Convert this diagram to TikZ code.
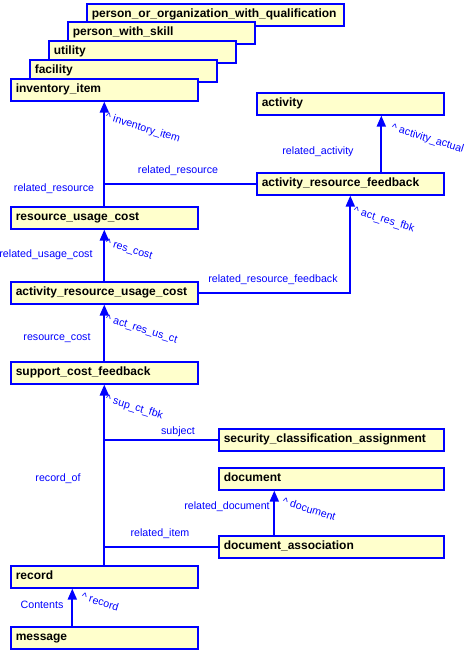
\documentclass[tikz,border=0pt]{standalone}
\usepackage{fontspec}
\setmainfont{Liberation Sans}
\usepackage{tikz}
\usetikzlibrary{arrows.meta}
\definecolor{entityfill}{RGB}{255,255,204}

\begin{document}
\begin{tikzpicture}[x=1pt, y=-1pt]
	\useasboundingbox (0,0) rectangle (468,650);
	\begin{scope}[every node/.style = {rectangle, draw=blue, fill=entityfill, line width=1.6pt,
			anchor=north west, minimum height=22pt, inner xsep=5pt, text width=177pt,
			text height=8.5pt, text depth=2.5pt, font=\fontsize{12}{14}\selectfont\bfseries}]
		\node[text width=247pt] (pooq) at (86,3) {person\_or\_organization\_with\_qualification};
		\node (pws) at (67,21) {person\_with\_skill};
		\node (util) at (48,40) {utility};
		\node (fac) at (29,59) {facility};
		\node (inv) at (10,78) {inventory\_item};
		\node (act) at (256,92) {activity};
		\node (arf) at (256,172) {activity\_resource\_feedback};
		\node (ruc) at (10,206) {resource\_usage\_cost};
		\node (aruc) at (10,281) {activity\_resource\_usage\_cost};
		\node (scf) at (10,361) {support\_cost\_feedback};
		\node[text width=215pt] (sca) at (218,428) {security\_classification\_assignment};
		\node[text width=215pt] (doc) at (218,467) {document};
		\node[text width=215pt] (da) at (218,535) {document\_association};
		\node (rec) at (10,565) {record};
		\node (msg) at (10,626) {message};
	\end{scope}
	\begin{scope}[>={Triangle[length=11pt, width=9pt]},
			every edge/.style={draw=blue, line width=1.8pt}]
		\path [->] (ruc.north) edge (inv.south);
		\path (arf.west) edge (arf.west -| inv.south);
		\path [->] ([xshift=31pt]arf.north) edge ([xshift=31pt]act.south);
		\path [->] (aruc.north) edge (ruc.south);
		\path [->] (aruc.east) edge [to path={-| (\tikztotarget)}] (arf.south);
		\path [->] (scf.north) edge (aruc.south);
		\path [->] (rec.north) edge (scf.south);
		\path (sca.west) edge (sca.west -| rec.north);
		\path (da.west) edge (da.west -| rec.north);
		\path [->] ([xshift=-57pt]da.north) edge ([xshift=-57pt]doc.south);
		\path [->] ([xshift=-32pt]msg.north) edge ([xshift=-32pt]rec.south);
	\end{scope}
	\begin{scope}[every node/.style = {text=blue, inner sep=0pt, font=\fontsize{10.67}{12}\selectfont},
			rolename/.style = {rotate=-17, anchor=north west}]
		\node (l_inv) at (178,171) {related\_resource};
		\node (l_ruc) at (54,189) {related\_resource};
		\node[rolename] (r_inv) at (107,112) {\textasciicircum\ inventory\_item};
		\node (l_act) at (318,152) {related\_activity};
		\node[rolename] (r_act) at (393,123) {\textasciicircum\ activity\_actual};
		\node[rolename] (r_arf) at (355,206) {\textasciicircum\ act\_res\_fbk};
		\node (l_aruc) at (46,255) {related\_usage\_cost};
		\node[rolename] (r_ruc) at (107,238) {\textasciicircum\ res\_cost};
		\node (l_arf) at (273,280) {related\_resource\_feedback};
		\node (l_scf) at (57,338) {resource\_cost};
		\node[rolename] (r_aruc) at (107,314) {\textasciicircum\ act\_res\_us\_ct};
		\node[rolename] (r_scf) at (107,394) {\textasciicircum\ sup\_ct\_fbk};
		\node (l_sca) at (178,432) {subject};
		\node (l_rec) at (58,479) {record\_of};
		\node (l_doc) at (227,507) {related\_document};
		\node[rolename] (r_doc) at (284,497) {\textasciicircum\ document};
		\node (l_da) at (160,534) {related\_item};
		\node (l_msg) at (42,605) {Contents};
		\node[rolename] (r_rec) at (83,592) {\textasciicircum\ record};
	\end{scope}
\end{tikzpicture}
\end{document}
